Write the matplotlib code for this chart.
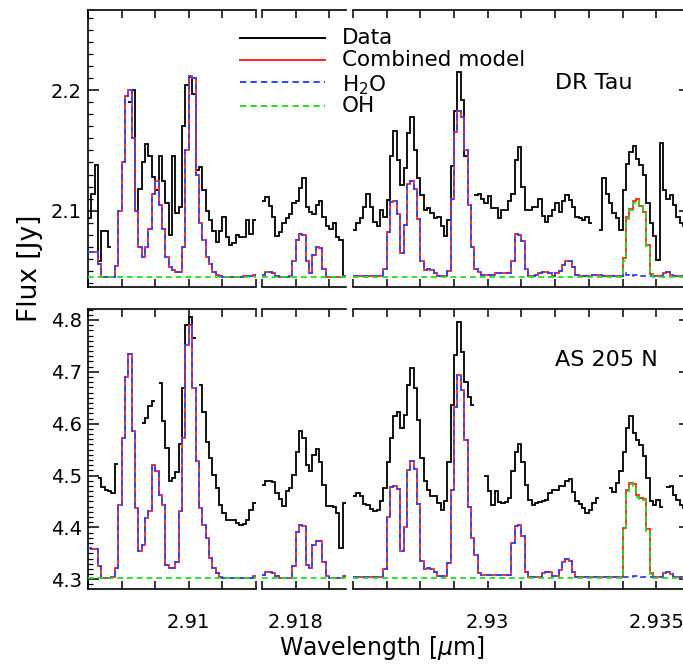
import numpy as np
import matplotlib
matplotlib.use("Agg")
import matplotlib.pyplot as plt
from matplotlib.lines import Line2D
from matplotlib.ticker import MultipleLocator, FuncFormatter

nan = np.nan

# Wavelength windows (micron) and spectral bin width
windows = [(2.907, 2.912), (2.917, 2.9195), (2.926, 2.936)]
bin_width = 0.0001

# x tick labels that are printed on the lower row
xtick_text = {2.910: "2.91", 2.918: "2.918", 2.930: "2.93", 2.935: "2.935"}

# ---------------- DR Tau ----------------
dr_name = "DR Tau"
dr_cont = 2.0453
dr_ylim = (2.0364, 2.2667)

dr_data_1 = [2.094, 2.114, 2.138, 2.058, 2.083, 2.083, 2.070, nan, nan, nan,
             nan, nan, 2.190, 2.200, 2.100, 2.118, 2.140, 2.155, 2.145, 2.128,
             2.117, 2.145, 2.125, 2.106, 2.080, 2.145, 2.098, 2.103, 2.170, 2.204,
             2.211, 2.197, 2.134, 2.136, 2.117, 2.100, 2.092, 2.083, 2.074, 2.083,
             2.095, 2.078, 2.072, 2.073, 2.080, 2.078, 2.078, 2.092, 2.081, 2.092]
dr_data_2 = [2.108, 2.111, 2.104, 2.095, 2.079, 2.082, 2.090, 2.094, 2.097, 2.106,
             2.108, 2.119, 2.127, 2.103, 2.099, 2.097, 2.105, 2.108, 2.095, 2.087,
             2.085, 2.090, 2.078, 2.076, 2.046]
dr_data_3 = [2.084, 2.090, 2.094, 2.103, 2.114, 2.103, 2.091, 2.087, 2.101, 2.095,
             2.109, 2.145, 2.166, 2.142, 2.121, 2.135, 2.164, 2.178, 2.150, 2.127,
             2.113, 2.101, 2.102, 2.098, 2.094, 2.095, 2.087, 2.079, 2.092, 2.137,
             2.183, 2.215, 2.192, 2.145, nan, nan, 2.113, 2.114, 2.110, 2.106,
             2.112, 2.102, 2.102, 2.094, 2.101, 2.101, 2.108, 2.114, 2.142, 2.153,
             2.120, 2.101, 2.101, 2.103, 2.103, 2.110, 2.096, 2.091, 2.096, 2.101,
             2.106, 2.099, 2.108, 2.113, 2.109, 2.103, 2.095, 2.094, 2.092, 2.095,
             2.090, nan, nan, 2.084, 2.127, 2.114, 2.106, 2.098, 2.094, 2.084,
             2.117, 2.139, 2.149, 2.154, 2.143, 2.138, 2.130, 2.106, 2.090, 2.079,
             2.059, 2.156, 2.117, 2.110, 2.113, 2.105, 2.095, 2.090, 2.087, 2.084]

dr_h2o_1 = [2.066, 2.066, 2.066, 2.056, 2.045, 2.045, 2.045, 2.045, 2.054, 2.100,
            2.140, 2.195, 2.200, 2.160, 2.100, 2.070, 2.062, 2.070, 2.085, 2.114,
            2.125, 2.105, 2.085, 2.062, 2.053, 2.051, 2.049, 2.049, 2.070, 2.150,
            2.212, 2.210, 2.130, 2.090, 2.076, 2.062, 2.056, 2.049, 2.047, 2.046,
            2.045, 2.045, 2.045, 2.045, 2.045, 2.045, 2.046, 2.046, 2.046, 2.047]
dr_h2o_2 = [2.047, 2.049, 2.049, 2.048, 2.046, 2.045, 2.045, 2.045, 2.046, 2.058,
            2.076, 2.081, 2.080, 2.058, 2.048, 2.063, 2.070, 2.069, 2.052, 2.045,
            2.045, 2.045, 2.045, 2.045, 2.046]
dr_h2o_3 = [2.046, 2.046, 2.046, 2.046, 2.046, 2.046, 2.046, 2.046, 2.046, 2.052,
            2.082, 2.107, 2.108, 2.097, 2.065, 2.088, 2.122, 2.125, 2.118, 2.093,
            2.058, 2.051, 2.052, 2.051, 2.048, 2.046, 2.046, 2.046, 2.050, 2.110,
            2.165, 2.183, 2.178, 2.150, 2.105, 2.070, 2.052, 2.049, 2.047, 2.047,
            2.047, 2.047, 2.048, 2.048, 2.048, 2.048, 2.048, 2.058, 2.081, 2.080,
            2.075, 2.052, 2.046, 2.046, 2.047, 2.048, 2.049, 2.049, 2.048, 2.046,
            2.048, 2.050, 2.055, 2.058, 2.058, 2.053, 2.047, 2.046, 2.046, 2.046,
            2.046, 2.047, 2.047, 2.047, 2.046, 2.046, 2.046, 2.046, 2.046, 2.046,
            2.048, 2.047, 2.046, 2.047, 2.047, 2.046, 2.046, 2.046, 2.046, 2.046,
            2.046, 2.046, 2.048, 2.049, 2.047, 2.046, 2.046, 2.046, 2.046, 2.046]
dr_oh_peak = [2.058, 2.093, 2.101, 2.106, 2.108, 2.103, 2.098, 2.071, 2.047]

# ---------------- AS 205 N ----------------
as_name = "AS 205 N"
as_cont = 4.302
as_ylim = (4.2813, 4.8212)

as_data_1 = [nan, nan, nan, 4.496, 4.477, 4.473, 4.470, 4.466, 4.522, nan,
             nan, nan, nan, nan, nan, nan, 4.602, 4.611, 4.634, 4.643,
             nan, 4.678, 4.605, 4.554, 4.489, 4.495, 4.506, 4.560, 4.668, 4.790,
             4.806, 4.765, nan, 4.675, 4.623, 4.565, 4.533, 4.501, 4.476, 4.444,
             4.428, 4.415, 4.415, 4.415, 4.408, 4.404, 4.406, 4.415, 4.434, 4.447]
as_data_2 = [4.482, 4.489, 4.489, 4.487, 4.466, 4.454, 4.441, 4.470, 4.476, 4.501,
             4.546, 4.586, 4.572, 4.521, 4.508, 4.540, 4.552, 4.527, 4.482, 4.441,
             4.441, 4.439, 4.428, 4.360, 4.447]
as_data_3 = [4.460, 4.466, 4.460, 4.445, 4.444, 4.436, 4.431, 4.434, 4.450, 4.476,
             4.527, 4.572, 4.614, 4.623, 4.591, 4.617, 4.675, 4.707, 4.668, 4.607,
             4.534, 4.490, 4.472, 4.461, 4.461, 4.447, 4.434, 4.450, 4.527, 4.636,
             4.733, 4.797, 4.739, 4.681, 4.652, 4.636, nan, nan, nan, 4.500,
             4.470, 4.444, 4.470, 4.449, 4.447, 4.449, 4.456, 4.508, 4.546, 4.560,
             4.527, 4.482, 4.453, 4.444, 4.447, 4.449, 4.450, 4.453, 4.466, 4.472,
             4.472, 4.480, 4.480, 4.490, 4.494, 4.469, 4.450, 4.445, 4.437, 4.428,
             4.434, 4.447, 4.456, nan, nan, nan, 4.476, 4.469, 4.485, 4.508,
             4.546, 4.591, 4.614, 4.582, 4.569, 4.559, 4.537, 4.495, 4.450, 4.444,
             4.453, 4.440, nan, 4.477, 4.479, 4.463, 4.453, 4.444, 4.437, 4.434]

as_h2o_1 = [4.360, 4.359, 4.359, 4.325, 4.302, 4.302, 4.302, 4.304, 4.322, 4.444,
            4.572, 4.690, 4.735, 4.585, 4.437, 4.355, 4.367, 4.418, 4.431, 4.520,
            4.508, 4.463, 4.444, 4.328, 4.322, 4.322, 4.334, 4.431, 4.572, 4.752,
            4.790, 4.668, 4.528, 4.437, 4.405, 4.380, 4.341, 4.322, 4.312, 4.305,
            4.302, 4.302, 4.302, 4.302, 4.302, 4.302, 4.302, 4.302, 4.303, 4.307]
as_h2o_2 = [4.309, 4.314, 4.315, 4.312, 4.306, 4.302, 4.302, 4.302, 4.302, 4.325,
            4.392, 4.404, 4.402, 4.328, 4.322, 4.367, 4.373, 4.373, 4.334, 4.306,
            4.302, 4.302, 4.302, 4.302, 4.307]
as_h2o_3 = [4.304, 4.304, 4.304, 4.304, 4.304, 4.304, 4.304, 4.304, 4.304, 4.320,
            4.420, 4.478, 4.480, 4.475, 4.355, 4.400, 4.510, 4.528, 4.512, 4.445,
            4.336, 4.320, 4.321, 4.320, 4.315, 4.307, 4.307, 4.307, 4.331, 4.472,
            4.633, 4.694, 4.665, 4.569, 4.440, 4.379, 4.347, 4.312, 4.308, 4.308,
            4.308, 4.308, 4.308, 4.308, 4.308, 4.308, 4.308, 4.370, 4.403, 4.405,
            4.383, 4.315, 4.305, 4.305, 4.305, 4.305, 4.313, 4.315, 4.314, 4.307,
            4.307, 4.318, 4.334, 4.339, 4.336, 4.315, 4.305, 4.305, 4.305, 4.305,
            4.305, 4.305, 4.305, 4.305, 4.305, 4.305, 4.305, 4.305, 4.305, 4.305,
            4.305, 4.304, 4.304, 4.306, 4.307, 4.304, 4.304, 4.304, 4.304, 4.304,
            4.304, 4.304, 4.313, 4.315, 4.310, 4.304, 4.304, 4.304, 4.304, 4.304]
as_oh_peak = [4.395, 4.470, 4.484, 4.480, 4.458, 4.455, 4.452, 4.394, 4.311]

oh_peak_first_bin = 80

COL_DATA = "black"
COL_COMB = "#ff2418"
COL_H2O = "#2b45ff"
COL_OH = "#1fe01f"
DASH = (0, (3.2, 2.2))

plt.rcParams["font.family"] = ["DejaVu Sans"]
plt.rcParams["mathtext.fontset"] = "dejavusans"

fig = plt.figure(figsize=(6.83, 6.65), dpi=100)

rows = [
    dict(name=dr_name, cont=dr_cont, ylim=dr_ylim, major=0.1,
         data=[dr_data_1, dr_data_2, dr_data_3],
         h2o=[dr_h2o_1, dr_h2o_2, dr_h2o_3], oh_peak=dr_oh_peak,
         box=(0.5677, 0.4180), label_y=0.875),
    dict(name=as_name, cont=as_cont, ylim=as_ylim, major=0.1,
         data=[as_data_1, as_data_2, as_data_3],
         h2o=[as_h2o_1, as_h2o_2, as_h2o_3], oh_peak=as_oh_peak,
         box=(0.1143, 0.4211), label_y=0.4586),
]
columns = [(0.1288, 0.2460), (0.3836, 0.1230), (0.5168, 0.4934)]


def xfmt(v, pos):
    for key, lab in xtick_text.items():
        if abs(v - key) < 1e-7:
            return lab
    return ""


for r, row in enumerate(rows):
    bottom, height = row["box"]
    for c, (left, width) in enumerate(columns):
        ax = fig.add_axes([left, bottom, width, height])
        lo, hi = windows[c]
        nb = int(round((hi - lo) / bin_width))
        edges = np.linspace(lo, hi, nb + 1)

        data = np.array(row["data"][c], dtype=float)
        h2o = np.array(row["h2o"][c], dtype=float)
        oh = np.full(nb, row["cont"])
        if c == 2:
            pk = np.array(row["oh_peak"])
            oh[oh_peak_first_bin:oh_peak_first_bin + len(pk)] = pk
        combined = h2o + oh - row["cont"]

        ax.stairs(data, edges, color=COL_DATA, lw=1.3, baseline=None, zorder=2)
        ax.stairs(combined, edges, color=COL_COMB, lw=1.3, baseline=None, zorder=3)
        ax.stairs(h2o, edges, color=COL_H2O, lw=1.3, baseline=None,
                  linestyle=DASH, zorder=4)
        ax.stairs(oh, edges, color=COL_OH, lw=1.3, baseline=None,
                  linestyle=DASH, zorder=5)

        ax.set_xlim(lo, hi)
        ax.set_ylim(*row["ylim"])

        for side in ("left", "right"):
            ax.spines[side].set_visible(False)
        for sp in ax.spines.values():
            sp.set_linewidth(1.2)

        ax.xaxis.set_major_locator(MultipleLocator(0.001))
        ax.xaxis.set_major_formatter(FuncFormatter(xfmt))
        ax.tick_params(axis="x", which="major", direction="in", top=True,
                       bottom=True, length=6, width=1.1, pad=17,
                       labelsize=14, labelbottom=(r == 1))

        ax.yaxis.set_major_locator(MultipleLocator(row["major"]))
        ax.yaxis.set_minor_locator(MultipleLocator(0.01))
        ax.yaxis.set_major_formatter(lambda v, p: f"{v:.1f}")
        if c == 0:
            ax.spines["left"].set_visible(True)
            ax.tick_params(axis="y", which="major", direction="in", left=True,
                           right=False, length=8, width=1.1, pad=4.5, labelsize=14)
            ax.tick_params(axis="y", which="minor", direction="in", left=True,
                           right=False, length=3.5, width=0.9)
        elif c == 2:
            ax.spines["right"].set_visible(True)
            ax.tick_params(axis="y", which="major", direction="in", left=False,
                           right=True, length=8, width=1.1, labelleft=False)
            ax.tick_params(axis="y", which="minor", direction="in", left=False,
                           right=True, length=3.5, width=0.9)
        else:
            ax.tick_params(axis="y", which="both", left=False, right=False,
                           labelleft=False)

    fig.text(0.8126, row["label_y"], row["name"], fontsize=16,
             ha="left", va="center")

# Legend drawn in figure coordinates
legend_items = [
    ("Data", COL_DATA, "-", 0.9433, 0.9338),
    ("Combined model", COL_COMB, "-", 0.9098, 0.9000),
    ("H$_2$O", COL_H2O, DASH, 0.8762, 0.8632),
    ("OH", COL_OH, DASH, 0.8406, 0.8316),
]
for text, col, ls, ly, ty in legend_items:
    fig.add_artist(Line2D([0.3514, 0.4758], [ly, ly], color=col, lw=1.4,
                          linestyle=ls, transform=fig.transFigure))
    fig.text(0.5007, ty, text, fontsize=15.5, ha="left", va="baseline")

fig.text(0.0440, 0.597, "Flux [Jy]", rotation=90, fontsize=19,
         ha="center", va="center")
fig.text(0.559, 0.0256, r"Wavelength [$\mu$m]", fontsize=17,
         ha="center", va="center")

fig.savefig("out.png", dpi=100)
